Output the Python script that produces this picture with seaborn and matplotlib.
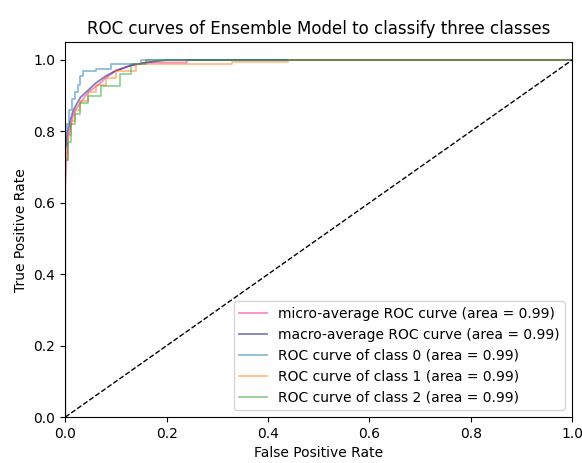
import numpy as np
import seaborn as sns
import matplotlib
matplotlib.use("Agg")
import matplotlib.pyplot as plt

# ROC points
micro_fpr = [0.0, 0.0, 0.003, 0.006, 0.01, 0.015, 0.02, 0.03, 0.04, 0.05, 0.065, 0.08, 0.1, 0.13, 0.16, 0.24, 0.24, 1.0]
micro_tpr = [0.0, 0.65, 0.74, 0.78, 0.81, 0.84, 0.86, 0.88, 0.9, 0.915, 0.93, 0.95, 0.97, 0.985, 0.993, 0.993, 1.0, 1.0]

macro_fpr = [0.0, 0.0, 0.005, 0.01, 0.015, 0.02, 0.03, 0.045, 0.06, 0.08, 0.1, 0.13, 0.16, 0.2, 1.0]
macro_tpr = [0.0, 0.75, 0.8, 0.83, 0.855, 0.87, 0.895, 0.915, 0.935, 0.955, 0.97, 0.985, 0.993, 1.0, 1.0]

class0_fpr = [0.0, 0.0, 0.004, 0.004, 0.008, 0.008, 0.014, 0.014, 0.02, 0.02, 0.026, 0.026, 0.03, 0.03, 0.036, 0.036, 0.06, 0.06, 0.09, 0.09, 0.15, 0.15, 1.0]
class0_tpr = [0.0, 0.76, 0.76, 0.82, 0.82, 0.86, 0.86, 0.89, 0.89, 0.91, 0.91, 0.93, 0.93, 0.955, 0.955, 0.97, 0.97, 0.975, 0.975, 0.99, 0.99, 1.0, 1.0]

class1_fpr = [0.0, 0.0, 0.006, 0.006, 0.012, 0.012, 0.02, 0.02, 0.03, 0.03, 0.045, 0.045, 0.06, 0.06, 0.08, 0.08, 0.1, 0.1, 0.14, 0.14, 0.33, 0.33, 0.44, 0.44, 1.0]
class1_tpr = [0.0, 0.72, 0.72, 0.79, 0.79, 0.83, 0.83, 0.86, 0.86, 0.885, 0.885, 0.91, 0.91, 0.93, 0.93, 0.95, 0.95, 0.97, 0.97, 0.99, 0.99, 0.995, 0.995, 1.0, 1.0]

class2_fpr = [0.0, 0.0, 0.006, 0.006, 0.012, 0.012, 0.02, 0.02, 0.03, 0.03, 0.045, 0.045, 0.07, 0.07, 0.108, 0.108, 0.13, 0.13, 0.16, 0.16, 1.0]
class2_tpr = [0.0, 0.72, 0.72, 0.77, 0.77, 0.82, 0.82, 0.85, 0.85, 0.88, 0.88, 0.9, 0.9, 0.927, 0.927, 0.96, 0.96, 0.99, 0.99, 1.0, 1.0]

labels = [
    "micro-average ROC curve (area = 0.99)",
    "macro-average ROC curve (area = 0.99)",
    "ROC curve of class 0 (area = 0.99)",
    "ROC curve of class 1 (area = 0.99)",
    "ROC curve of class 2 (area = 0.99)",
]
colors = ["deeppink", "navy", "tab:blue", "tab:orange", "tab:green"]
curves = [
    (micro_fpr, micro_tpr),
    (macro_fpr, macro_tpr),
    (class0_fpr, class0_tpr),
    (class1_fpr, class1_tpr),
    (class2_fpr, class2_tpr),
]

fig, ax = plt.subplots(figsize=(5.82, 4.63), dpi=100)
fig.subplots_adjust(left=0.112, right=0.983, bottom=0.099, top=0.909)

for (fpr, tpr), label, color in zip(curves, labels, colors):
    sns.lineplot(x=fpr, y=tpr, ax=ax, color=color, alpha=0.5, lw=1.3,
                 label=label, sort=False, estimator=None)

# chance line
ax.plot([0, 1], [0, 1], "k--", lw=1)
ax.set_xlim(0.0, 1.0)
ax.set_ylim(0.0, 1.05)
ax.set_xlabel("False Positive Rate")
ax.set_ylabel("True Positive Rate")
ax.set_title("ROC curves of Ensemble Model to classify three classes")
ax.legend(loc="lower right")

fig.savefig("out.png", dpi=100)
